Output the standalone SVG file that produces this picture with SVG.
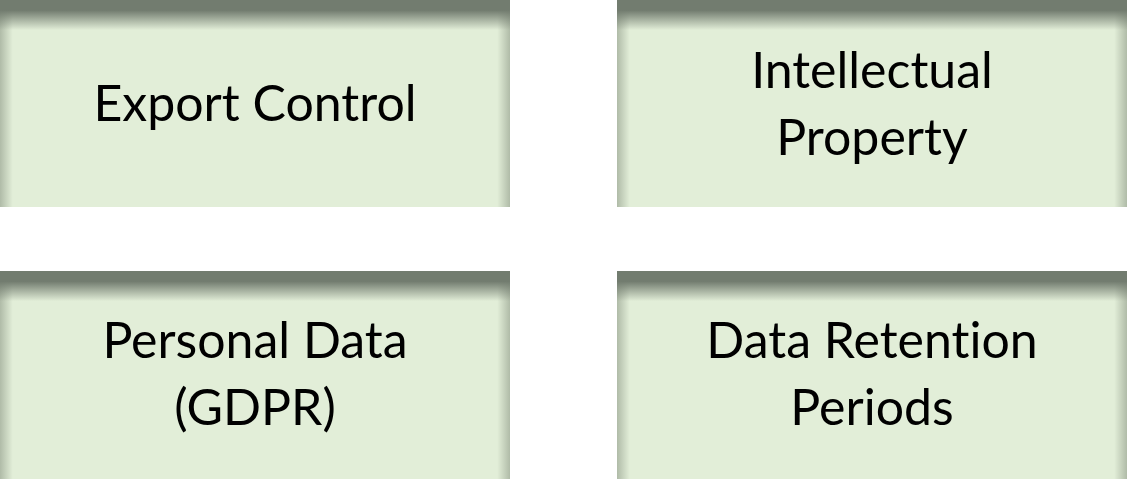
<svg xmlns="http://www.w3.org/2000/svg" width="1127" height="479" viewBox="0 0 1127 479">
<defs>
<linearGradient id="side" x1="0" y1="0" x2="1" y2="0">
<stop offset="0" stop-color="#7d8877" stop-opacity="0.5"/>
<stop offset="0.025" stop-color="#7d8877" stop-opacity="0"/>
<stop offset="0.975" stop-color="#7d8877" stop-opacity="0"/>
<stop offset="1" stop-color="#7d8877" stop-opacity="0.5"/>
</linearGradient>
<linearGradient id="top" x1="0" y1="0" x2="0" y2="1">
<stop offset="0" stop-color="#727c6f" stop-opacity="1"/>
<stop offset="0.05" stop-color="#727c6f" stop-opacity="1"/>
<stop offset="0.145" stop-color="#727c6f" stop-opacity="0"/>
</linearGradient>
</defs>
<style>
.fill{fill:#e2eed8}
.sd{fill:url(#side)}
.tp{fill:url(#top)}
text{font-family:Lato,"Open Sans","Liberation Sans",sans-serif;font-size:50px;fill:#000;text-anchor:middle;font-variant-ligatures:none;font-feature-settings:"liga" 0,"clig" 0}
</style>
<g id="export-control">
<rect class="fill" x="0" y="0" width="510" height="207"/>
<rect class="sd" x="0" y="0" width="510" height="207"/>
<rect class="tp" x="0" y="0" width="510" height="207"/>
<text x="255" y="121">Export Control</text>
</g>
<g id="intellectual-property">
<rect class="fill" x="617" y="0" width="510" height="207"/>
<rect class="sd" x="617" y="0" width="510" height="207"/>
<rect class="tp" x="617" y="0" width="510" height="207"/>
<text x="872" y="88">Intellectual</text>
<text x="872" y="155">Property</text>
</g>
<g id="personal-data">
<rect class="fill" x="0" y="271" width="510" height="208"/>
<rect class="sd" x="0" y="271" width="510" height="208"/>
<rect class="tp" x="0" y="271" width="510" height="208"/>
<text x="255" y="358">Personal Data</text>
<text x="255" y="425">(GDPR)</text>
</g>
<g id="data-retention">
<rect class="fill" x="617" y="271" width="510" height="208"/>
<rect class="sd" x="617" y="271" width="510" height="208"/>
<rect class="tp" x="617" y="271" width="510" height="208"/>
<text x="872" y="358">Data Retention</text>
<text x="872" y="425">Periods</text>
</g>
<g id="connectors"/>
</svg>
